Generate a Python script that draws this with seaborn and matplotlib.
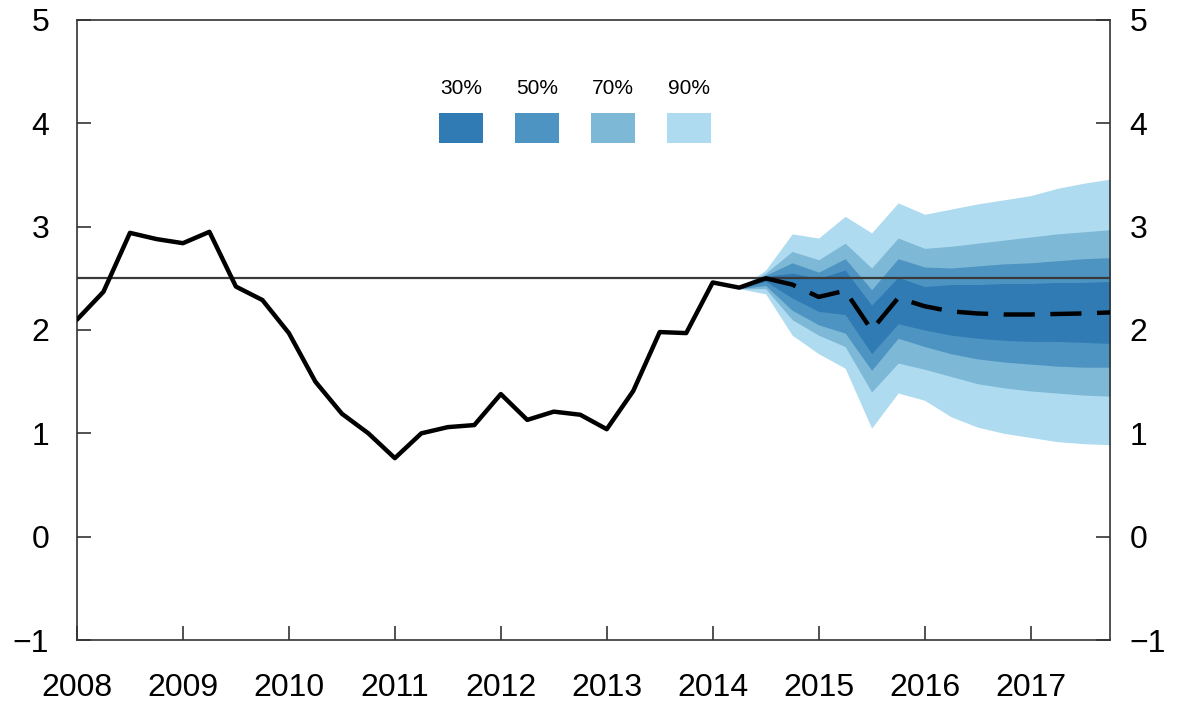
import numpy as np
import pandas as pd
import matplotlib
matplotlib.use("Agg")
import matplotlib.pyplot as plt
from matplotlib.patches import Rectangle
from matplotlib.transforms import ScaledTranslation
import seaborn as sns

# history, quarterly from 2008Q1 to 2014Q3
hist_start = "2008Q1"
hist_vals = [2.10, 2.37, 2.94, 2.88, 2.84, 2.95, 2.42, 2.29, 1.97, 1.50, 1.19, 1.00,
             0.76, 1.00, 1.06, 1.08, 1.38, 1.13, 1.21, 1.18, 1.04, 1.41, 1.98, 1.97,
             2.46, 2.41, 2.50]

# fan bands, quarterly from 2014Q2 to 2017Q4
fan_start = "2014Q2"
u90 = [2.40, 2.58, 2.93, 2.89, 3.10, 2.94, 3.23, 3.12, 3.17, 3.22, 3.26, 3.30, 3.37, 3.42, 3.46]
u70 = [2.40, 2.55, 2.76, 2.68, 2.84, 2.60, 2.89, 2.79, 2.81, 2.84, 2.87, 2.90, 2.93, 2.95, 2.97]
u50 = [2.40, 2.53, 2.65, 2.56, 2.69, 2.39, 2.69, 2.61, 2.60, 2.62, 2.64, 2.65, 2.67, 2.69, 2.70]
u30 = [2.40, 2.52, 2.55, 2.50, 2.58, 2.24, 2.51, 2.42, 2.44, 2.44, 2.45, 2.45, 2.46, 2.46, 2.47]
l30 = [2.40, 2.47, 2.31, 2.18, 2.15, 1.77, 2.06, 2.00, 1.95, 1.92, 1.90, 1.89, 1.89, 1.88, 1.87]
l50 = [2.40, 2.43, 2.19, 2.05, 1.97, 1.61, 1.92, 1.84, 1.77, 1.72, 1.69, 1.67, 1.65, 1.64, 1.64]
l70 = [2.40, 2.40, 2.10, 1.95, 1.84, 1.40, 1.68, 1.62, 1.55, 1.48, 1.44, 1.41, 1.39, 1.37, 1.36]
l90 = [2.40, 2.35, 1.95, 1.77, 1.63, 1.05, 1.39, 1.32, 1.16, 1.06, 1.00, 0.96, 0.92, 0.90, 0.89]

# median forecast from 2014Q3
med_start = "2014Q3"
med_vals = [2.50, 2.44, 2.32, 2.38, 2.00, 2.31, 2.23, 2.18, 2.16, 2.15, 2.15, 2.155, 2.16, 2.17]

target = 2.5
band_labels = ["30%", "50%", "70%", "90%"]
band_colors = ["#307bb4", "#4e94c3", "#7db8d6", "#aedbf0"]
year_ticks = list(range(2008, 2018))
y_ticks = [-1, 0, 1, 2, 3, 4, 5]


def decimal_years(start, n):
    p = pd.period_range(start, periods=n, freq="Q")
    return p.year + (p.quarter - 1) / 4


hist = pd.DataFrame({"x": decimal_years(hist_start, len(hist_vals)), "y": hist_vals})
fan = pd.DataFrame({"x": decimal_years(fan_start, len(u90)),
                    "u90": u90, "u70": u70, "u50": u50, "u30": u30,
                    "l30": l30, "l50": l50, "l70": l70, "l90": l90})
med = pd.DataFrame({"x": decimal_years(med_start, len(med_vals)), "y": med_vals})

sns.set_theme(style="white")
plt.rcParams["font.family"] = ["Liberation Sans", "DejaVu Sans"]

fig = plt.figure(figsize=(11.77, 7.01), dpi=100)
ax = fig.add_axes([0.0654, 0.087, 0.8777, 0.8845])

# bands, widest first
for lvl, col in zip(["90", "70", "50", "30"], band_colors[::-1]):
    ax.fill_between(fan["x"], fan["l" + lvl], fan["u" + lvl], color=col, lw=0, zorder=1)

ax.axhline(target, color="#3a3a3a", lw=1.6, zorder=2)
sns.lineplot(data=hist, x="x", y="y", ax=ax, color="black", lw=3.2, zorder=3)
sns.lineplot(data=med, x="x", y="y", ax=ax, color="black", lw=3.2,
             linestyle=(0, (7, 3.5)), zorder=3)

ax.set_xlim(2008, 2017.75)
ax.set_ylim(-1, 5)
ax.set_xticks(year_ticks)
ax.set_xticklabels([str(y) for y in year_ticks])
ax.set_yticks(y_ticks)
ax.set_xlabel("")
ax.set_ylabel("")
ax.tick_params(axis="y", direction="in", length=10, width=1.2, color="#333333",
               left=True, right=True, labelleft=True, labelright=True,
               labelsize=23, labelcolor="black", pad=20)
ax.tick_params(axis="x", direction="in", length=10, width=1.2, color="#333333",
               bottom=True, labelsize=23, labelcolor="black", pad=24)
for s in ax.spines.values():
    s.set_color("#333333")
    s.set_linewidth(1.2)

# right labels sit closer to the spine than the left ones
shift = ScaledTranslation(-6 / 72, 0, fig.dpi_scale_trans)
for t in ax.yaxis.get_major_ticks():
    t.label2.set_transform(t.label2.get_transform() + shift)

# legend: swatches with labels above
sw_x0 = (439 - 77) / 1033
sw_step = 76 / 1033
sw_w = 44 / 1033
sw_y = (640 - 143) / 620
sw_h = 30 / 620
for i, (lab, col) in enumerate(zip(band_labels, band_colors)):
    x0 = sw_x0 + i * sw_step
    ax.add_patch(Rectangle((x0, sw_y), sw_w, sw_h, transform=ax.transAxes,
                           facecolor=col, edgecolor="none", zorder=4))
    ax.text(x0 + sw_w / 2, sw_y + sw_h + 0.039, lab, transform=ax.transAxes,
            ha="center", va="center", fontsize=15, color="black")

fig.savefig("out.png", dpi=100)
